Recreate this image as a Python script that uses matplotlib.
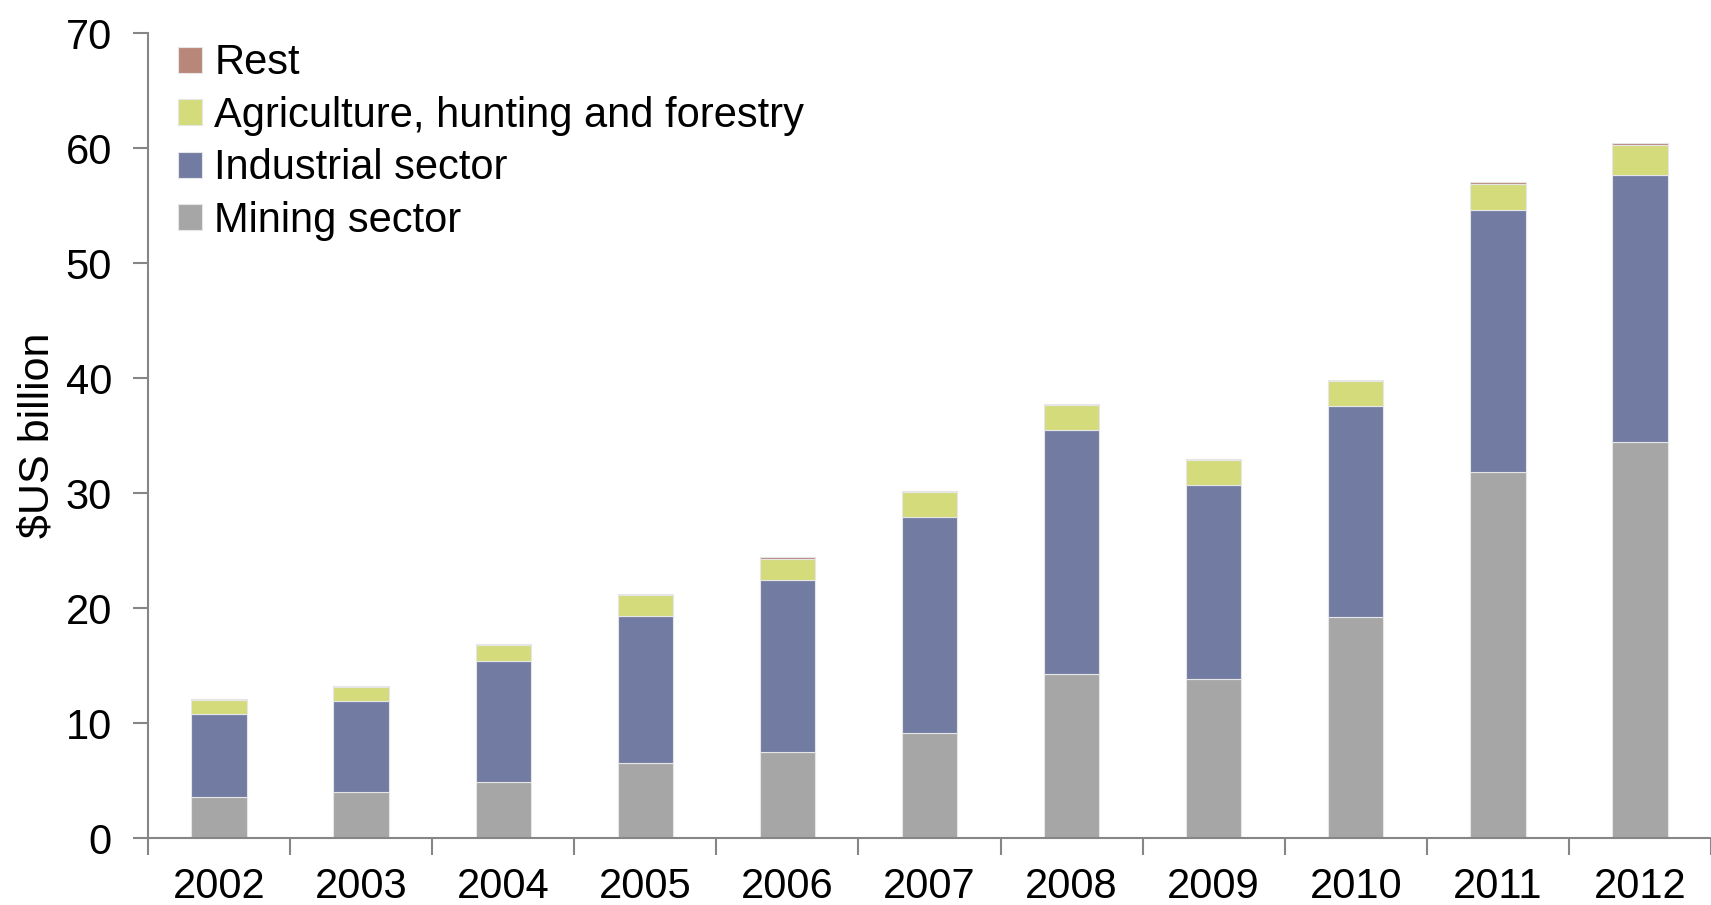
import matplotlib
matplotlib.use('Agg')
import matplotlib.pyplot as plt
import numpy as np

plt.rcParams['font.family'] = ['Liberation Sans', 'DejaVu Sans']

# Data ($US billion)
years = ['2002', '2003', '2004', '2005', '2006', '2007', '2008', '2009', '2010', '2011', '2012']
mining = [3.6, 4.0, 4.9, 6.5, 7.5, 9.1, 14.3, 13.85, 19.25, 31.85, 34.45]
industrial = [7.2, 7.95, 10.5, 12.85, 14.9, 18.8, 21.2, 16.85, 18.35, 22.75, 23.2]
agriculture = [1.2, 1.2, 1.4, 1.8, 1.9, 2.15, 2.15, 2.2, 2.15, 2.3, 2.6]
rest = [0.05, 0.05, 0.05, 0.1, 0.15, 0.1, 0.1, 0.1, 0.1, 0.15, 0.15]

series = [
    ('Mining sector', mining, '#a6a6a6'),
    ('Industrial sector', industrial, '#727ca3'),
    ('Agriculture, hunting and forestry', agriculture, '#d4db7b'),
    ('Rest', rest, '#b9877a'),
]

fig = plt.figure(figsize=(17.11, 9.05), dpi=100)
ax = fig.add_axes([0.0865, 0.074, 0.9135, 0.8895])

x = np.arange(len(years))
bottom = np.zeros(len(years))
handles = []
for name, vals, color in series:
    vals = np.array(vals)
    h = ax.bar(x, vals, width=0.39, bottom=bottom, color=color,
               edgecolor='#e6e6e6', linewidth=0.8, label=name)
    handles.append(h)
    bottom += vals

ax.set_ylim(0, 70)
ax.set_xlim(-0.5, 10.4)
ax.set_yticks(np.arange(0, 71, 10))
ax.set_xticks(x)
ax.set_xticklabels(years)
ax.set_xticks(np.arange(-0.5, 11, 1), minor=True)

for s in ['top', 'right']:
    ax.spines[s].set_visible(False)
for s in ['left', 'bottom']:
    ax.spines[s].set_color('#868686')
    ax.spines[s].set_linewidth(1.5)

ax.tick_params(axis='y', labelsize=30, length=11, width=1.5, color='#868686', pad=15)
ax.tick_params(axis='x', which='major', labelsize=30, length=0, pad=21)
ax.tick_params(axis='x', which='minor', length=12, width=1.5, color='#868686')

ax.set_ylabel('$US billion', fontsize=31, labelpad=6)

leg = ax.legend(handles[::-1], [s[0] for s in series][::-1], loc='upper left',
                bbox_to_anchor=(0.0085, 1.008), frameon=False, fontsize=30,
                handlelength=0.58, handleheight=0.58, handletextpad=0.29,
                labelspacing=0.3, borderaxespad=0.0)

fig.savefig('out.png', dpi=100)
